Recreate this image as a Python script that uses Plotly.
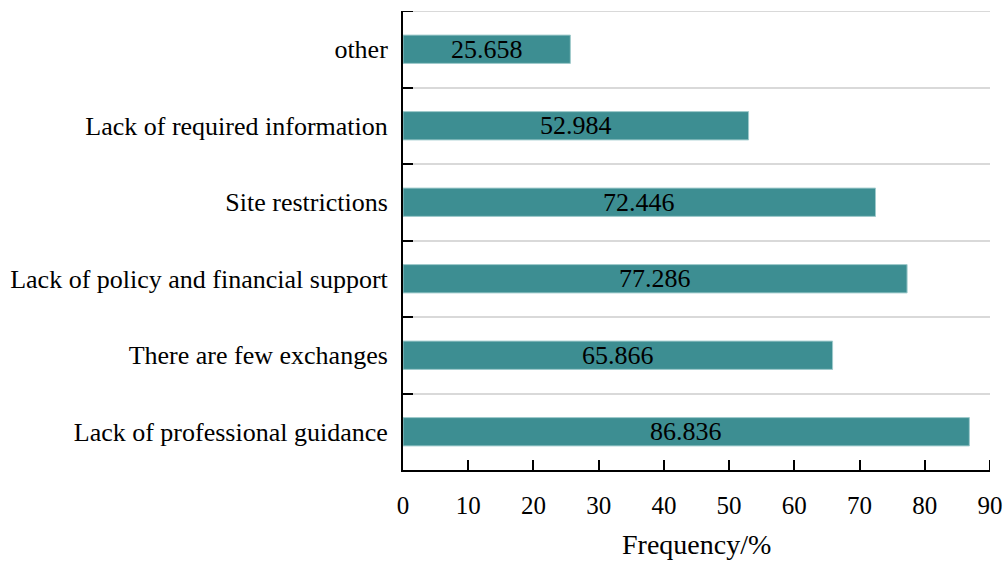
import plotly.graph_objects as go

categories = [
    "Lack of professional guidance",
    "There are few exchanges",
    "Lack of policy and financial support",
    "Site restrictions",
    "Lack of required information",
    "other",
]
values = [86.836, 65.866, 77.286, 72.446, 52.984, 25.658]
x_ticks = [0, 10, 20, 30, 40, 50, 60, 70, 80, 90]
x_title = "Frequency/%"

FONT = "Liberation Serif, Times New Roman, serif"

fig = go.Figure()
fig.add_trace(
    go.Bar(
        y=categories,
        x=values,
        orientation="h",
        width=0.37,
        marker=dict(color="#3d8e92", line=dict(color="#9fcacc", width=1)),
        textposition="none",
        hoverinfo="x+y",
    )
)

# value labels centred in each bar
for cat, v in zip(categories, values):
    fig.add_annotation(
        x=v / 2, y=cat, xref="x", yref="y",
        text=f"{v:.3f}", showarrow=False,
        xanchor="center", yanchor="middle", yshift=0,
        font=dict(family=FONT, size=26, color="black"),
    )

fig.update_layout(
    width=1006,
    height=562,
    margin=dict(l=403, r=16, t=11, b=92),
    plot_bgcolor="white",
    paper_bgcolor="white",
    showlegend=False,
    font=dict(family=FONT, color="black"),
)

fig.update_xaxes(
    range=[0, 90],
    tickvals=x_ticks,
    ticktext=[str(t) for t in x_ticks],
    ticks="inside",
    ticklen=10,
    tickwidth=2,
    tickcolor="black",
    showline=True,
    linecolor="black",
    linewidth=2,
    showgrid=False,
    zeroline=False,
    automargin=False,
    ticklabeloverflow="allow",
    tickfont=dict(family=FONT, size=25, color="black"),
    ticklabelstandoff=12,
)

fig.add_annotation(
    x=0.5, y=0, xref="paper", yref="paper",
    text=x_title, showarrow=False,
    xanchor="center", yanchor="middle", yshift=-74,
    font=dict(family=FONT, size=28, color="black"),
)

fig.update_yaxes(
    type="category",
    categoryorder="array",
    categoryarray=categories,
    range=[-0.5, 5.5],
    tickson="boundaries",
    ticks="inside",
    ticklen=10,
    tickwidth=2,
    tickcolor="black",
    showline=True,
    linecolor="black",
    linewidth=2,
    showgrid=True,
    gridcolor="#d9d9d9",
    gridwidth=2,
    zeroline=False,
    automargin=False,
    ticklabeloverflow="allow",
    tickfont=dict(family=FONT, size=26, color="black"),
    ticklabelstandoff=8,
)

# top boundary gridline and tick (not drawn by plotly at the range edge)
fig.add_shape(type="line", xref="paper", x0=0, x1=1, yref="y", y0=5.5, y1=5.5,
              line=dict(color="#d9d9d9", width=2), layer="below")
fig.add_shape(type="line", xref="x", xsizemode="pixel", xanchor=0, x0=0, x1=10,
              yref="y", y0=5.5, y1=5.5, line=dict(color="black", width=2))
# tick at the right end of the x axis (at range edge)
fig.add_shape(type="line", xref="x", x0=x_ticks[-1], x1=x_ticks[-1],
              yref="paper", ysizemode="pixel", yanchor=0, y0=0, y1=10,
              line=dict(color="black", width=2))

fig.write_html(
    "out.html",
    config={"displayModeBar": False},
    post_script="document.body.style.margin='0';",
)
